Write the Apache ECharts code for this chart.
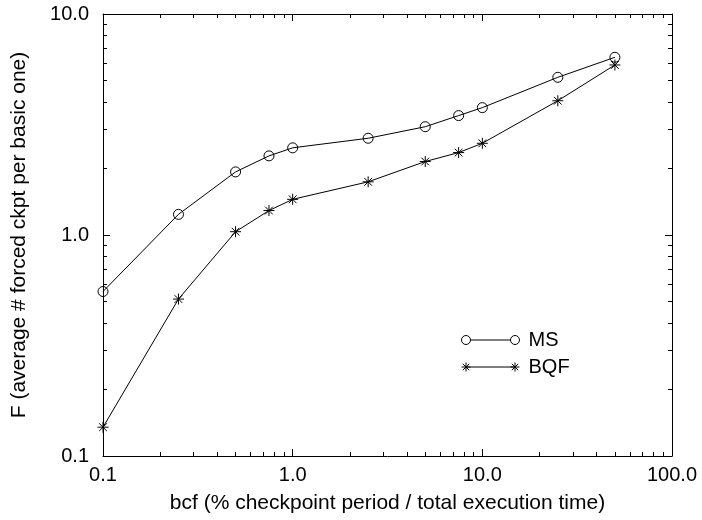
<!DOCTYPE html>
<html>
<head>
<meta charset="utf-8">
<script src="https://cdn.jsdelivr.net/npm/echarts@6/dist/echarts.min.js"></script>
<style>
html,body{margin:0;padding:0;background:#fff;}
#chart{width:702px;height:520px;}
</style>
</head>
<body>
<div id="chart"></div>
<script>
const bcf = [0.1, 0.25, 0.5, 0.75, 1.0, 2.5, 5, 7.5, 10, 25, 50];
const msValues = [0.555, 1.24, 1.93, 2.28, 2.48, 2.74, 3.09, 3.47, 3.77, 5.17, 6.37];
const bqfValues = [0.135, 0.513, 1.035, 1.29, 1.45, 1.74, 2.15, 2.36, 2.60, 4.05, 5.88];
const seriesNames = ['MS', 'BQF'];
const xTitle = 'bcf (% checkpoint period / total execution time)';
const yTitle = 'F (average # forced ckpt per basic one)';

const FONT = '"Liberation Sans", Arial, Helvetica, sans-serif';
const asterisk = 'path://M5,0L5,10M0,5L10,5M1.5,1.5L8.5,8.5M8.5,1.5L1.5,8.5';
const msLegendIcon = 'path://M0,4.5A4.5,4.5 0 1,1 9,4.5A4.5,4.5 0 1,1 0,4.5M9,4.5L49,4.5M49,4.5A4.5,4.5 0 1,1 58,4.5A4.5,4.5 0 1,1 49,4.5';
const bqfLegendIcon = 'path://M4.5,0L4.5,9M0,4.5L9,4.5M1.3,1.3L7.7,7.7M7.7,1.3L1.3,7.7M4.5,4.5L53.5,4.5M53.5,0L53.5,9M49,4.5L58,4.5M50.3,1.3L56.7,7.7M56.7,1.3L50.3,7.7';

function pair(xs, ys) { return xs.map((x, i) => [x, ys[i]]); }
const fmt = v => Number(v).toFixed(1);

function makeAxis(pos, min, max, withLabels, extra) {
  return Object.assign({
    type: 'log',
    logBase: 10,
    min: min,
    max: max,
    position: pos,
    axisLine: { show: true, onZero: false, lineStyle: { color: '#000', width: 1 } },
    axisTick: { show: true, inside: true, length: 7, lineStyle: { color: '#000', width: 1 } },
    minorTick: { show: true, splitNumber: 9, length: 4, lineStyle: { color: '#000', width: 1 } },
    splitLine: { show: false },
    minorSplitLine: { show: false },
    axisLabel: withLabels ? { show: true, formatter: fmt, color: '#000', fontSize: 20, fontFamily: FONT, margin: 9 } : { show: false }
  }, extra || {});
}

const chart = echarts.init(document.getElementById('chart'), null, { renderer: 'canvas' });
chart.setOption({
  animation: false,
  backgroundColor: '#fff',
  grid: { left: 103, right: 30, top: 14, bottom: 64, containLabel: false },
  xAxis: [
    makeAxis('bottom', 0.1, 100, true, {
      name: xTitle, nameLocation: 'middle', nameGap: 37,
      nameTextStyle: { color: '#000', fontSize: 21, fontFamily: FONT }
    }),
    makeAxis('top', 0.1, 100, false)
  ],
  yAxis: [
    makeAxis('left', 0.1, 10, true, {
      name: yTitle, nameLocation: 'middle', nameGap: 73, nameRotate: 90,
      nameTextStyle: { color: '#000', fontSize: 21, fontFamily: FONT },
      axisLabel: { show: true, formatter: fmt, color: '#000', fontSize: 20, fontFamily: FONT, margin: 14 }
    }),
    makeAxis('right', 0.1, 10, false)
  ],
  legend: {
    orient: 'vertical',
    left: 461,
    top: 330,
    padding: 0,
    itemGap: 7,
    itemWidth: 58,
    itemHeight: 9,
    textStyle: { color: '#000', fontSize: 20, fontFamily: FONT, padding: [0, 0, 0, 4] },
    data: [
      { name: seriesNames[0], icon: msLegendIcon, itemStyle: { color: 'transparent', borderColor: '#000', borderWidth: 1 } },
      { name: seriesNames[1], icon: bqfLegendIcon, itemStyle: { color: '#000', borderColor: '#000', borderWidth: 1 } }
    ]
  },
  series: [
    {
      name: seriesNames[0],
      type: 'line',
      xAxisIndex: 0, yAxisIndex: 0,
      data: pair(bcf, msValues),
      symbol: 'circle',
      symbolSize: 10,
      showAllSymbol: true,
      lineStyle: { color: '#000', width: 1 },
      itemStyle: { color: 'transparent', borderColor: '#000', borderWidth: 1 },
      emphasis: { disabled: true },
      z: 3
    },
    {
      name: seriesNames[1],
      type: 'line',
      xAxisIndex: 0, yAxisIndex: 0,
      data: pair(bcf, bqfValues),
      symbol: asterisk,
      symbolSize: 11,
      showAllSymbol: true,
      lineStyle: { color: '#000', width: 1 },
      itemStyle: { color: '#000', borderColor: '#000', borderWidth: 1 },
      emphasis: { disabled: true },
      z: 3
    }
  ]
});
</script>
</body>
</html>
